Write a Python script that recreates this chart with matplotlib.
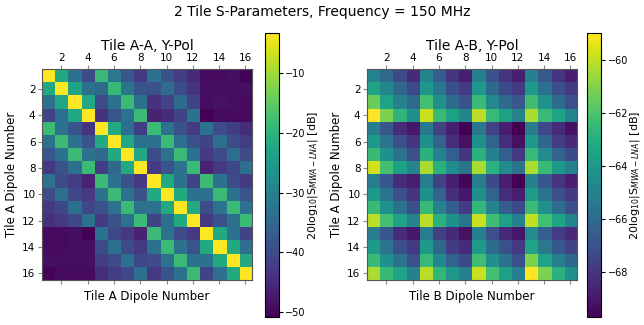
import matplotlib
matplotlib.use("Agg")
import matplotlib.pyplot as plt
import numpy as np

# S-parameter magnitudes in dB, rows = Tile A dipole
dipoles = list(range(1, 17))
tick_vals = [2, 4, 6, 8, 10, 12, 14, 16]

aa_db = [
    [-3.3, -22, -33, -40, -18.5, -32, -38, -43, -33, -39, -42, -45, -49.5, -49.5, -49, -50.5],
    [-22, -3.3, -23, -33, -34, -19, -32.5, -38.5, -39, -34, -40, -43.5, -49, -49, -49, -49],
    [-33, -22.5, -3.3, -22.5, -40, -33, -18.5, -33, -44, -41, -34, -41, -49, -48.5, -49, -49.5],
    [-41, -33.5, -22.5, -3.3, -44, -38.5, -33, -18.5, -46, -44.5, -41, -33, -50.8, -49.5, -49.5, -49.5],
    [-18.5, -33, -38.5, -43.5, -3.3, -22, -33.5, -42, -18.5, -33, -39, -43, -33, -40, -42, -44.5],
    [-33, -18.5, -33, -38.5, -22, -3.3, -22.5, -33.5, -33, -18.5, -33.5, -39, -41, -33.5, -40, -42],
    [-38, -33, -18.5, -33, -34.5, -22, -3.3, -22.5, -40, -33, -18.5, -33, -43, -40, -33.5, -40],
    [-43, -39, -33.5, -18.5, -42, -34.5, -22, -3.3, -43, -38.5, -33, -18.5, -46, -43, -40.5, -33.5],
    [-33, -40, -42, -46, -18.5, -33, -39, -43, -3.3, -22, -33, -41, -18.5, -33, -40, -43],
    [-40, -33.5, -40.5, -43, -33, -18.5, -33, -39, -22, -3.3, -22, -33.5, -33, -18.5, -33, -38.5],
    [-43, -40.5, -33.5, -40.5, -39, -33, -18.5, -33, -33, -22, -3.3, -22, -40, -33, -18.5, -33],
    [-44, -43, -40.5, -33, -43, -39, -33, -18.5, -41, -33.5, -22, -3.3, -43, -39, -33, -18.5],
    [-49.5, -49.5, -49, -50.8, -33, -40.5, -43, -46, -18.5, -33, -40, -43, -3.3, -22, -33, -41],
    [-49.5, -49.5, -49, -49, -40, -33.5, -40, -43, -33, -18.5, -33, -38.5, -22, -3.3, -22, -33.5],
    [-49, -49, -49, -49, -42, -40, -33.5, -40.5, -40, -33, -18.5, -33, -33, -22, -3.3, -22],
    [-50.5, -49.5, -49.5, -49.5, -44.5, -42, -40.5, -33.5, -43, -38.5, -33, -18.5, -41, -33.5, -22, -3.3],
]

ab_db = [
    [-64.9, -66.0, -67.3, -68.4, -64.9, -66.5, -68.1, -68.8, -65.0, -67.0, -68.1, -68.8, -65.0, -66.7, -68.1, -68.8],
    [-63.5, -64.8, -66.1, -67.3, -64.1, -65.4, -67.1, -67.9, -64.0, -66.1, -67.3, -67.9, -64.0, -65.7, -67.1, -67.9],
    [-61.4, -63.5, -65.0, -66.0, -62.2, -64.35, -65.9, -67.0, -62.5, -64.7, -66.0, -66.8, -62.3, -64.2, -65.9, -67.1],
    [-59.0, -61.1, -62.7, -64.35, -59.9, -62.4, -63.6, -64.8, -60.1, -62.5, -63.6, -64.9, -60.3, -62.5, -63.5, -64.9],
    [-65.2, -66.8, -68.4, -69.0, -65.4, -67.6, -68.8, -69.7, -65.4, -67.6, -68.8, -69.7, -65.2, -67.3, -68.4, -69.2],
    [-64.0, -65.6, -67.1, -68.1, -64.35, -66.3, -68.3, -69.2, -64.35, -66.3, -68.3, -69.2, -64.0, -66.1, -67.8, -68.4],
    [-62.5, -64.35, -65.7, -67.1, -62.85, -65.0, -66.5, -68.1, -62.85, -65.0, -66.5, -67.9, -62.5, -64.55, -66.3, -67.3],
    [-59.75, -62.2, -63.6, -64.9, -60.4, -62.85, -64.55, -65.6, -60.4, -62.85, -64.55, -65.6, -60.3, -62.5, -64.0, -65.0],
    [-65.2, -66.8, -68.4, -68.8, -65.2, -67.6, -68.8, -69.5, -65.2, -67.3, -68.8, -69.7, -65.0, -66.8, -68.1, -68.8],
    [-64.0, -65.6, -67.1, -68.1, -64.35, -66.3, -68.3, -69.0, -64.35, -66.3, -68.3, -68.8, -63.8, -65.6, -67.1, -67.9],
    [-62.5, -64.35, -65.7, -67.1, -62.5, -65.0, -66.5, -67.8, -62.6, -65.0, -66.5, -67.3, -62.4, -64.35, -65.9, -67.1],
    [-60.1, -62.2, -63.5, -64.9, -60.1, -62.85, -64.35, -65.6, -59.9, -62.3, -63.6, -65.0, -60.0, -62.2, -63.5, -64.9],
    [-65.2, -66.8, -68.4, -69.0, -65.2, -67.6, -68.4, -69.2, -65.1, -67.1, -68.4, -69.0, -64.55, -66.5, -67.8, -68.4],
    [-64.0, -65.6, -67.1, -67.9, -64.0, -66.1, -67.9, -68.4, -63.9, -65.9, -67.1, -67.9, -63.5, -65.4, -66.8, -67.6],
    [-62.5, -64.35, -65.7, -67.1, -62.5, -64.7, -66.3, -67.3, -62.3, -64.35, -65.7, -67.1, -61.1, -63.5, -65.2, -66.1],
    [-60.3, -62.5, -63.5, -65.0, -60.1, -62.6, -64.1, -65.1, -59.9, -62.2, -63.6, -65.0, -59.0, -61.1, -62.85, -64.35],
]

panels = [
    ("Tile A-A, Y-Pol", "Tile A Dipole Number", aa_db, [-10, -20, -30, -40, -50]),
    ("Tile A-B, Y-Pol", "Tile B Dipole Number", ab_db, [-60, -62, -64, -66, -68]),
]

fig = plt.figure(figsize=(6.44, 3.25), dpi=100)
fig.suptitle("2 Tile S-Parameters, Frequency = 150 MHz", fontsize=10, y=0.985)

ax_pos = [[0.0648, 0.1385, 0.3266, 0.649], [0.5694, 0.1385, 0.3266, 0.649]]
cb_pos = [[0.4115, 0.0246, 0.0217, 0.874], [0.912, 0.0246, 0.0217, 0.874]]
cb_label = r"20log$_{10}$|S$_{MWA-LNA}$| [dB]"

lo, hi = dipoles[0] - 0.5, dipoles[-1] + 0.5
for (title, xlabel, data, cticks), apos, cpos in zip(panels, ax_pos, cb_pos):
    ax = fig.add_axes(apos)
    arr = np.array(data, dtype=float)
    im = ax.imshow(arr, cmap="viridis", extent=(lo, hi, hi, lo), aspect="auto",
                   interpolation="nearest")
    ax.set_title(title, fontsize=10, pad=14)
    ax.set_xticks(tick_vals)
    ax.set_yticks(tick_vals)
    ax.xaxis.tick_top()
    ax.tick_params(axis="x", top=True, bottom=True, labeltop=True, labelbottom=False,
                   labelsize=7.5, length=3, color="#888888", pad=1.5)
    ax.tick_params(axis="y", labelsize=7.5, length=3, color="#888888", pad=1.5)
    ax.set_xlabel(xlabel, fontsize=8.5, labelpad=4)
    ax.xaxis.set_label_position("bottom")
    ax.set_ylabel("Tile A Dipole Number", fontsize=8.5, labelpad=3)
    for sp in ax.spines.values():
        sp.set_color("#555555")
        sp.set_linewidth(0.8)

    cax = fig.add_axes(cpos)
    cb = fig.colorbar(im, cax=cax)
    cb.set_ticks(cticks)
    cb.ax.tick_params(labelsize=7, length=3, pad=1.5)
    cb.set_label(cb_label, fontsize=8, labelpad=0)
    cb.outline.set_linewidth(0.8)

fig.savefig("out.png", dpi=100)
